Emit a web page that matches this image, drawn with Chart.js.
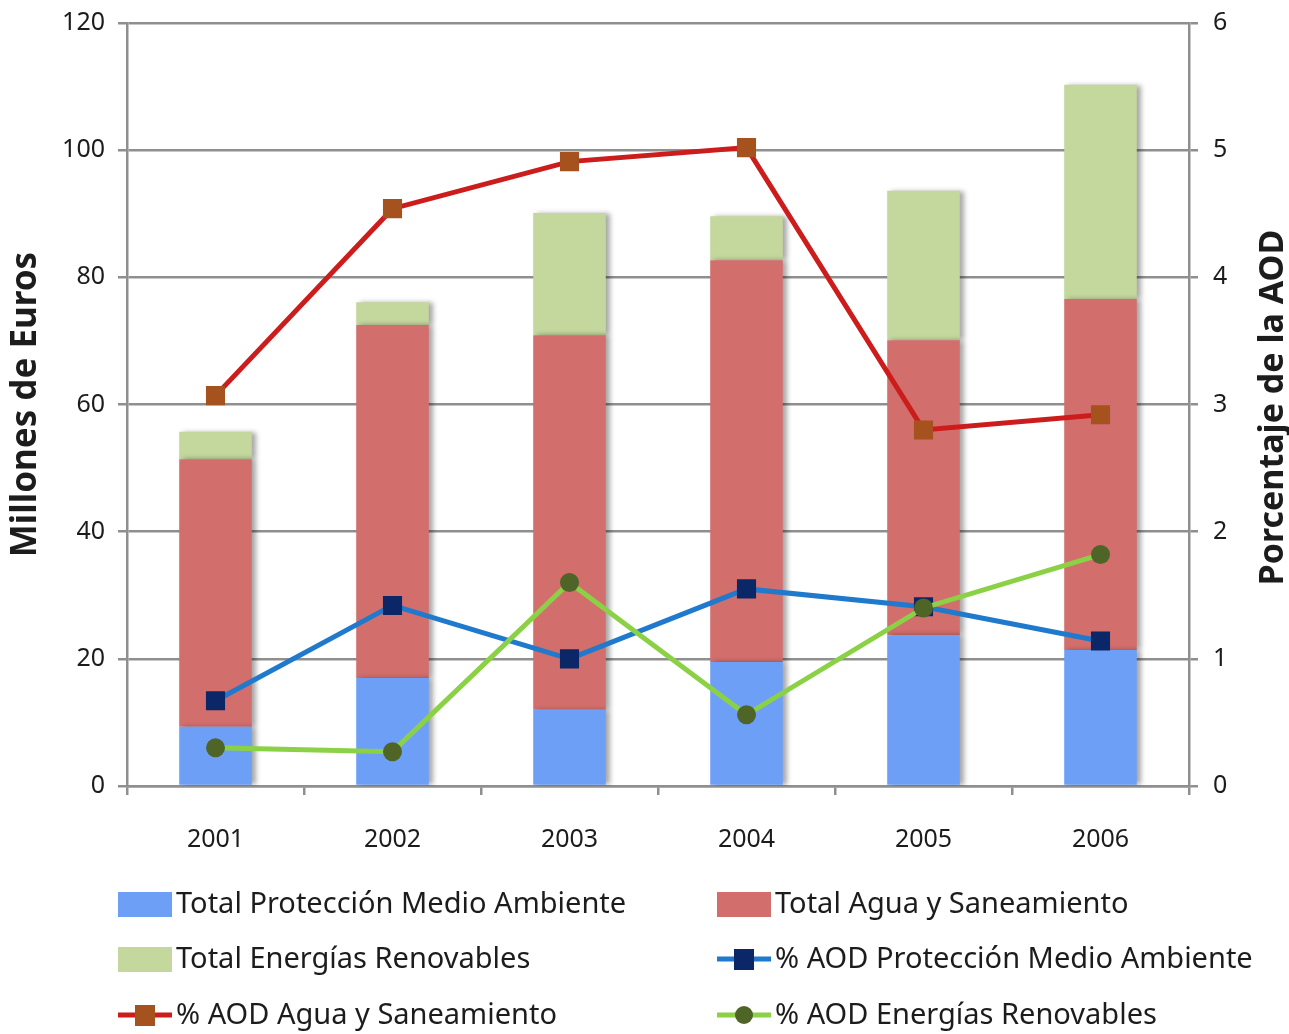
<!DOCTYPE html>
<html lang="es">
<head>
    <meta charset="UTF-8">
    <title>Millones de Euros / Porcentaje de la AOD</title>
    <style>
        body {
            margin: 0;
            padding: 0;
            background: #ffffff;
        }
        #wrap {
            width: 1289px;
            height: 1034px;
        }
    </style>
    <script src="https://cdn.jsdelivr.net/npm/chart.js"></script>
</head>
<body>
    <div id="wrap"><canvas id="graph" width="1289" height="1034"></canvas></div>
    <script>
        // data
        const years = ['2001', '2002', '2003', '2004', '2005', '2006'];

        // stacked bars, millones de euros
        const totalProteccion = [9.3, 17.0, 12.0, 19.5, 23.7, 21.4];
        const totalAgua = [42.1, 55.5, 58.9, 63.2, 46.4, 55.2];
        const totalEnergias = [4.3, 3.6, 19.2, 6.9, 23.5, 33.7];

        // lines, porcentaje de la AOD (right axis)
        const aodProteccion = [0.67, 1.42, 1.0, 1.55, 1.41, 1.14];
        const aodAgua = [3.07, 4.54, 4.91, 5.02, 2.80, 2.92];
        const aodEnergias = [0.30, 0.27, 1.60, 0.56, 1.40, 1.82];

        const leftTicks = { min: 0, max: 120, step: 20 };
        const rightTicks = { min: 0, max: 6, step: 1 };
        const rightTitle = 'Porcentaje de la AOD';

        const FONT = "'Noto Sans', 'DejaVu Sans', sans-serif";
        const GRID = '#8f8f8f';
        const TEXT = '#1c1c1c';

        // soft shadow on the right of the bars
        const barShadow = {
            id: 'barShadow',
            beforeDatasetDraw(chart, args) {
                if (args.meta.type !== 'bar') return;
                const ctx = chart.ctx;
                ctx.save();
                ctx.shadowColor = 'rgba(0,0,0,0.35)';
                ctx.shadowBlur = 5;
                ctx.shadowOffsetX = 4;
                ctx.shadowOffsetY = 0;
            },
            afterDatasetDraw(chart, args) {
                if (args.meta.type !== 'bar') return;
                chart.ctx.restore();
            }
        };

        // right axis title reads bottom-to-top, like the left one
        const rightAxisTitle = {
            id: 'rightAxisTitle',
            afterDraw(chart) {
                const ctx = chart.ctx;
                const area = chart.chartArea;
                ctx.save();
                ctx.translate(1273, (area.top + area.bottom) / 2 + 3);
                ctx.rotate(-Math.PI / 2);
                ctx.fillStyle = TEXT;
                ctx.font = 'bold 34px ' + FONT;
                ctx.textAlign = 'center';
                ctx.textBaseline = 'middle';
                ctx.fillText(rightTitle, 0, 0);
                ctx.restore();
            }
        };

        // two-column legend under the chart
        const bottomLegend = {
            id: 'bottomLegend',
            afterDraw(chart) {
                const ctx = chart.ctx;
                const items = [
                    { ds: 0, x: 118, y: 904 },
                    { ds: 1, x: 717, y: 904 },
                    { ds: 2, x: 118, y: 959 },
                    { ds: 3, x: 717, y: 959 },
                    { ds: 4, x: 118, y: 1015 },
                    { ds: 5, x: 717, y: 1015 }
                ];
                ctx.save();
                items.forEach(item => {
                    const ds = chart.data.datasets[item.ds];
                    if (ds.type === 'line') {
                        ctx.strokeStyle = ds.borderColor;
                        ctx.lineWidth = 5;
                        ctx.beginPath();
                        ctx.moveTo(item.x, item.y);
                        ctx.lineTo(item.x + 54, item.y);
                        ctx.stroke();
                        ctx.fillStyle = ds.pointBackgroundColor;
                        if (ds.pointStyle === 'rect') {
                            ctx.fillRect(item.x + 17, item.y - 10, 20, 21);
                        } else {
                            ctx.beginPath();
                            ctx.arc(item.x + 27, item.y, 9, 0, Math.PI * 2);
                            ctx.fill();
                        }
                    } else {
                        ctx.fillStyle = ds.backgroundColor;
                        ctx.fillRect(item.x, item.y - 12, 54, 25);
                    }
                    ctx.fillStyle = TEXT;
                    ctx.font = '29px ' + FONT;
                    ctx.textBaseline = 'middle';
                    ctx.textAlign = 'left';
                    ctx.fillText(ds.label, item.x + 58, item.y + 1);
                });
                ctx.restore();
            }
        };

        const ctx = document.getElementById('graph').getContext('2d');
        new Chart(ctx, {
            type: 'bar',
            data: {
                labels: years,
                datasets: [
                    {
                        label: 'Total Protección Medio Ambiente',
                        data: totalProteccion,
                        backgroundColor: '#6e9ff6',
                        yAxisID: 'y',
                        order: 2
                    },
                    {
                        label: 'Total Agua y Saneamiento',
                        data: totalAgua,
                        backgroundColor: '#d26e6c',
                        yAxisID: 'y',
                        order: 2
                    },
                    {
                        label: 'Total Energías Renovables',
                        data: totalEnergias,
                        backgroundColor: '#c4d79d',
                        yAxisID: 'y',
                        order: 2
                    },
                    {
                        type: 'line',
                        label: '% AOD Protección Medio Ambiente',
                        data: aodProteccion,
                        borderColor: '#1f79cc',
                        borderWidth: 5,
                        pointStyle: 'rect',
                        pointRadius: 13.5,
                        pointBackgroundColor: '#0b2768',
                        pointBorderWidth: 0,
                        yAxisID: 'y1',
                        order: 1
                    },
                    {
                        type: 'line',
                        label: '% AOD Agua y Saneamiento',
                        data: aodAgua,
                        borderColor: '#cc1c1c',
                        borderWidth: 5,
                        pointStyle: 'rect',
                        pointRadius: 13.5,
                        pointBackgroundColor: '#a6521f',
                        pointBorderWidth: 0,
                        yAxisID: 'y1',
                        order: 1
                    },
                    {
                        type: 'line',
                        label: '% AOD Energías Renovables',
                        data: aodEnergias,
                        borderColor: '#8bd145',
                        borderWidth: 5,
                        pointStyle: 'circle',
                        pointRadius: 9.5,
                        pointBackgroundColor: '#4f6427',
                        pointBorderWidth: 0,
                        yAxisID: 'y1',
                        order: 0
                    }
                ]
            },
            options: {
                responsive: false,
                animation: false,
                layout: {
                    padding: { top: 23, bottom: 168, left: 0, right: 0 }
                },
                plugins: {
                    legend: { display: false },
                    tooltip: { enabled: false }
                },
                datasets: {
                    bar: {
                        categoryPercentage: 1.0,
                        barPercentage: 0.41
                    }
                },
                scales: {
                    x: {
                        stacked: true,
                        grid: {
                            offset: true,
                            drawOnChartArea: false,
                            drawTicks: true,
                            tickLength: 9,
                            color: GRID,
                            lineWidth: 2.5
                        },
                        border: { color: GRID, width: 2.5 },
                        ticks: {
                            color: TEXT,
                            font: { family: FONT, size: 25 },
                            padding: 30
                        },
                        afterFit(scale) { scale.height = 80; }
                    },
                    y: {
                        stacked: true,
                        position: 'left',
                        min: leftTicks.min,
                        max: leftTicks.max,
                        ticks: {
                            stepSize: leftTicks.step,
                            color: TEXT,
                            font: { family: FONT, size: 25 },
                            padding: 13
                        },
                        grid: {
                            color: GRID,
                            lineWidth: 2.5,
                            tickLength: 9
                        },
                        border: { color: GRID, width: 2.5 },
                        title: {
                            display: true,
                            text: 'Millones de Euros',
                            color: TEXT,
                            font: { family: FONT, size: 35, weight: 'bold' },
                            padding: { top: 5, bottom: 0 }
                        },
                        afterFit(scale) {
                            scale.width = 127;
                            scale.paddingTop = 0;
                            scale.paddingBottom = 0;
                        }
                    },
                    y1: {
                        position: 'right',
                        min: rightTicks.min,
                        max: rightTicks.max,
                        ticks: {
                            stepSize: rightTicks.step,
                            color: TEXT,
                            font: { family: FONT, size: 25 },
                            padding: 15
                        },
                        grid: {
                            drawOnChartArea: false,
                            color: GRID,
                            lineWidth: 2.5,
                            tickLength: 9
                        },
                        border: { color: GRID, width: 2.5 },
                        afterFit(scale) {
                            scale.width = 100;
                            scale.paddingTop = 0;
                            scale.paddingBottom = 0;
                        }
                    }
                }
            },
            plugins: [barShadow, rightAxisTitle, bottomLegend]
        });
    </script>
</body>
</html>
